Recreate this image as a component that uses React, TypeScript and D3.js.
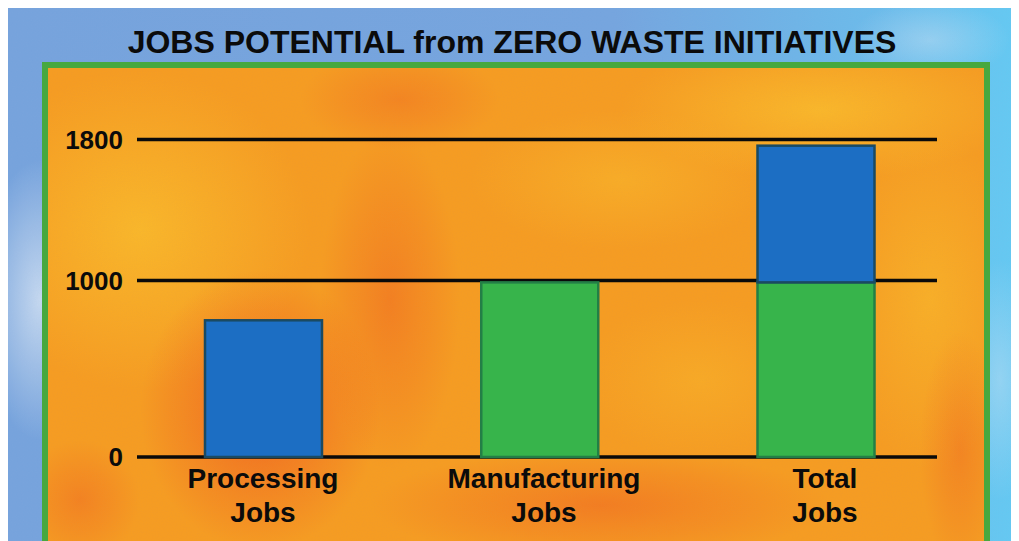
import React from "react";
import * as d3 from "d3";

const title = "JOBS POTENTIAL from ZERO WASTE INITIATIVES";
const categories = ["Processing", "Manufacturing", "Total"];
const labelLines = [["Processing", "Jobs"], ["Manufacturing", "Jobs"], ["Total", "Jobs"]];
const processingJobs = [775, 0, 775];
const manufacturingJobs = [0, 990, 990];
const tickValues = [0, 1000, 1800];

const W = 1011;
const H = 533;

export default function App() {
  const y = d3.scaleLinear().domain([0, 1800]).range([457, 139.5]);
  const barX = d3.scalePoint<string>().domain(categories).range([263.5, 816]);
  const labelX = d3.scalePoint<string>().domain(categories).range([263, 825]);
  const barW = 117;

  const rows = categories.map((c, i) => ({ c, manufacturing: manufacturingJobs[i], processing: processingJobs[i] }));
  const stack = d3.stack<any>().keys(["manufacturing", "processing"])(rows);
  const colors: Record<string, [string, string]> = {
    manufacturing: ["#37b44b", "#237f46"],
    processing: ["#1c6ec3", "#1a4a62"],
  };
  const font = "'Liberation Sans', Arial, Helvetica, sans-serif";

  return (
    <svg width={W} height={H} style={{ display: "block" }}>
      <defs>
        <linearGradient id="bg" x1="0" x2="1" y1="0" y2="0">
          <stop offset="0" stopColor="#75a2dc" />
          <stop offset="0.6" stopColor="#74a4de" />
          <stop offset="0.88" stopColor="#69bdec" />
          <stop offset="1" stopColor="#62caf3" />
        </linearGradient>
        <radialGradient id="redA" cx="0.5" cy="0.5" r="0.5">
          <stop offset="0" stopColor="#f0591f" stopOpacity="0.8" />
          <stop offset="1" stopColor="#f0591f" stopOpacity="0" />
        </radialGradient>
        <radialGradient id="yelA" cx="0.5" cy="0.5" r="0.5">
          <stop offset="0" stopColor="#fbbb2a" stopOpacity="0.9" />
          <stop offset="1" stopColor="#fbbb2a" stopOpacity="0" />
        </radialGradient>
        <radialGradient id="cloud" cx="0.5" cy="0.5" r="0.5">
          <stop offset="0" stopColor="#dbe7f5" stopOpacity="0.8" />
          <stop offset="1" stopColor="#dbe7f5" stopOpacity="0" />
        </radialGradient>
        <filter id="grain" x="0" y="0" width="100%" height="100%">
          <feTurbulence type="fractalNoise" baseFrequency="0.8" numOctaves="2" seed="3" />
          <feColorMatrix type="matrix" values="0 0 0 0 0.6  0 0 0 0 0.3  0 0 0 0 0.1  0 0 0 0.12 0" />
        </filter>
        <filter id="grainB" x="0" y="0" width="100%" height="100%">
          <feTurbulence type="fractalNoise" baseFrequency="0.8" numOctaves="2" seed="5" />
          <feColorMatrix type="matrix" values="0 0 0 0 0.3  0 0 0 0 0.45  0 0 0 0 0.7  0 0 0 0.12 0" />
        </filter>
        <clipPath id="panelClip">
          <rect x={48} y={68} width={936} height={480} />
        </clipPath>
      </defs>
      <g transform="translate(-8,-8)">
        <rect x={8} y={8} width={W} height={H} fill="url(#bg)" />
        <ellipse cx={40} cy={300} rx={60} ry={140} fill="url(#cloud)" />
        <ellipse cx={1000} cy={380} rx={40} ry={120} fill="url(#cloud)" opacity={0.5} />
        <ellipse cx={930} cy={40} rx={80} ry={40} fill="url(#cloud)" opacity={0.5} />
        <rect x={8} y={8} width={W} height={H} filter="url(#grainB)" />

        <rect x={42} y={62} width={948} height={500} fill="#47a83f" />
        <rect x={48} y={68} width={936} height={480} fill="#f79c20" />
        <g clipPath="url(#panelClip)">
          <ellipse cx={140} cy={230} rx={170} ry={160} fill="url(#yelA)" />
          <ellipse cx={820} cy={110} rx={200} ry={70} fill="url(#yelA)" />
          <ellipse cx={930} cy={300} rx={90} ry={170} fill="url(#yelA)" opacity={0.7} />
          <ellipse cx={620} cy={180} rx={150} ry={70} fill="url(#yelA)" opacity={0.6} />
          <ellipse cx={700} cy={380} rx={120} ry={80} fill="url(#yelA)" opacity={0.5} />
          <ellipse cx={260} cy={410} rx={120} ry={140} fill="url(#redA)" />
          <ellipse cx={390} cy={300} rx={70} ry={170} fill="url(#redA)" opacity={0.55} />
          <ellipse cx={400} cy={100} rx={100} ry={50} fill="url(#redA)" opacity={0.45} />
          <ellipse cx={600} cy={505} rx={230} ry={55} fill="url(#redA)" opacity={0.6} />
          <ellipse cx={960} cy={450} rx={40} ry={120} fill="url(#redA)" opacity={0.45} />
          <ellipse cx={80} cy={500} rx={60} ry={60} fill="url(#redA)" opacity={0.5} />
          <rect x={48} y={68} width={936} height={480} filter="url(#grain)" />
        </g>

        <text x={512} y={53} textAnchor="middle" fontFamily={font} fontWeight="bold" fontSize={32} fill="#0b0b0b">
          {title}
        </text>

        {tickValues.map((t) => (
          <line key={t} x1={137} x2={937} y1={y(t)} y2={y(t)} stroke="#0a0a0a" strokeWidth={3.5} />
        ))}
        {tickValues.map((t) => (
          <text key={"l" + t} x={123} y={y(t) + 9} textAnchor="end" fontFamily={font} fontWeight="bold" fontSize={26} fill="#0b0b0b">
            {t}
          </text>
        ))}

        {stack.map((s) =>
          s.map((d, i) => {
            const v = d[1] - d[0];
            if (v <= 0) return null;
            const cx = barX(categories[i]) as number;
            return (
              <rect
                key={s.key + i}
                x={cx - barW / 2}
                y={y(d[1])}
                width={barW}
                height={y(d[0]) - y(d[1])}
                fill={colors[s.key][0]}
                stroke={colors[s.key][1]}
                strokeWidth={2.5}
              />
            );
          })
        )}

        {categories.map((c, i) =>
          labelLines[i].map((line, j) => (
            <text
              key={c + j}
              x={labelX(c) as number}
              y={488 + j * 34}
              textAnchor="middle"
              fontFamily={font}
              fontWeight="bold"
              fontSize={28}
              fill="#0b0b0b"
            >
              {line}
            </text>
          ))
        )}
      </g>
    </svg>
  );
}
